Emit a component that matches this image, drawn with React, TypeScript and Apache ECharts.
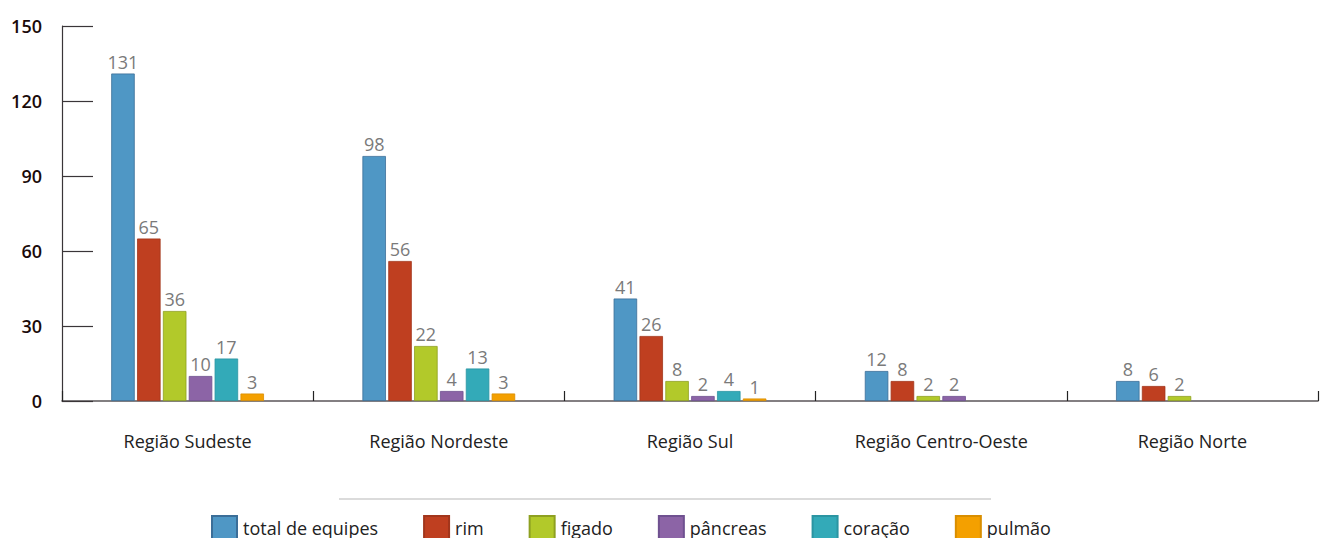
import React, { useEffect, useRef } from "react";
import * as echarts from "echarts";

const regions = ["Região Sudeste", "Região Nordeste", "Região Sul", "Região Centro-Oeste", "Região Norte"];
const seriesNames = ["total de equipes", "rim", "figado", "pâncreas", "coração", "pulmão"];
const totalEquipes = [131, 98, 41, 12, 8];
const rim = [65, 56, 26, 8, 6];
const figado = [36, 22, 8, 2, 2];
const pancreas = [10, 4, 2, 2, 0];
const coracao = [17, 13, 4, 0, 0];
const pulmao = [3, 3, 1, 0, 0];
const yTicks = [0, 30, 60, 90, 120, 150];

const colors = ["#4f97c5", "#bf3f20", "#b2c92a", "#8c64a6", "#33aab8", "#f4a000"];
const borders = ["#3b6e98", "#a2361c", "#8ea021", "#6f5190", "#2b95a2", "#d98e00"];

const FONT = "'Open Sans', 'Noto Sans', sans-serif";

export default function App() {
  const ref = useRef<HTMLDivElement>(null);

  useEffect(() => {
    if (!ref.current) return;
    const chart = echarts.init(ref.current, null, { renderer: "svg" });
    const values = [totalEquipes, rim, figado, pancreas, coracao, pulmao];

    chart.setOption({
      animation: false,
      textStyle: { fontFamily: FONT },
      grid: { left: 62, right: 2, top: 26, bottom: 137, containLabel: false },
      legend: {
        left: 211,
        top: 515,
        padding: 0,
        itemWidth: 25,
        itemHeight: 23,
        itemGap: 45,
        icon: "rect",
        textStyle: { fontSize: 18, color: "#222", fontFamily: FONT, padding: [0, 0, 0, 1] },
        data: seriesNames,
      },
      xAxis: {
        type: "category",
        data: regions,
        axisLine: { lineStyle: { color: "#5a5558", width: 1.6 } },
        axisTick: { show: true, inside: true, length: 10, lineStyle: { color: "#222", width: 1.2 } },
        axisLabel: { margin: 31, fontSize: 18, color: "#222", fontFamily: FONT },
      },
      yAxis: {
        type: "value",
        min: yTicks[0],
        max: yTicks[yTicks.length - 1],
        interval: 30,
        splitLine: { show: false },
        axisLine: { show: true, lineStyle: { color: "#3a3538", width: 1.2 } },
        axisTick: { show: true, inside: true, length: 31, lineStyle: { color: "#3a3538", width: 1.2 } },
        axisLabel: { margin: 20, fontSize: 18, fontWeight: 600, color: "#1a0a0a", fontFamily: FONT },
      },
      graphic: [
        {
          type: "line",
          shape: { x1: 339, y1: 499, x2: 991, y2: 499 },
          style: { stroke: "#cfcfcf", lineWidth: 1.5 },
        },
      ],
      series: seriesNames.map((name, i) => ({
        name,
        type: "bar",
        data: values[i].map((v) => (v === 0 ? { value: v, itemStyle: { borderWidth: 0 } } : v)),
        barWidth: 23.5,
        barGap: "10%",
        itemStyle: { color: colors[i], borderColor: borders[i], borderWidth: 0.8 },
        label: {
          show: true,
          position: "top",
          distance: 3,
          fontSize: 18,
          color: "#7a7a7a",
          fontFamily: FONT,
          formatter: (p: any) => (p.value === 0 ? "" : String(p.value)),
        },
      })),
    });

    return () => chart.dispose();
  }, []);

  return <div ref={ref} style={{ width: 1320, height: 538, position: "absolute", left: 0, top: 0 }} />;
}
